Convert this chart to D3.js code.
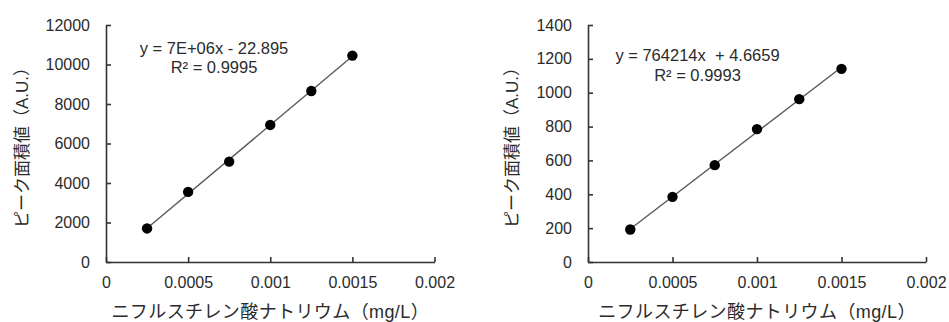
<!DOCTYPE html>
<html>
<head>
<meta charset="utf-8">
<script src="https://cdn.jsdelivr.net/npm/d3@7"></script>
<style>
  html, body { margin: 0; padding: 0; background: #ffffff; }
  svg { display: block; }
  text { fill: #2b2b2b; }
</style>
</head>
<body>
<svg id="chart" width="949" height="322"></svg>
<script>
// Sodium concentration standards (mg/L)
const concentrations = [0.00025, 0.0005, 0.00075, 0.001, 0.00125, 0.0015];

// Peak areas (A.U.) for each calibration curve
const peakAreaLeft = [1700, 3550, 5080, 6940, 8660, 10450];
const peakAreaRight = [192, 385, 572, 785, 962, 1141];

// Axis ticks
const xTicks = [0, 0.0005, 0.001, 0.0015, 0.002];
const xTickLabels = ["0", "0.0005", "0.001", "0.0015", "0.002"];
const yTicksLeft = [0, 2000, 4000, 6000, 8000, 10000, 12000];
const yTicksRight = [0, 200, 400, 600, 800, 1000, 1200, 1400];

// Trendline annotations
const equationLeft = ["y = 7E+06x - 22.895", "R² = 0.9995"];
const equationRight = ["y = 764214x  + 4.6659", "R² = 0.9993"];

// Axis titles
const xTitle = "ニフルスチレン酸ナトリウム（mg/L）";
const yTitle = "ピーク面積値（A.U.）";

const latinFont = "'Liberation Sans', Arial, 'Noto Sans CJK JP', sans-serif";
const svg = d3.select("#chart");

function drawPanel(opts) {
  const { values, yTicks, equation, x0, x1, yTop, yBottom, eqX, eqY, yTitleX } = opts;
  const g = svg.append("g");

  const x = d3.scaleLinear().domain([0, 0.002]).range([x0, x1]);
  const y = d3.scaleLinear().domain([0, d3.max(yTicks)]).range([yBottom, yTop]);

  // Axes with inward ticks
  const xAxis = d3.axisBottom(x)
    .tickValues(xTicks)
    .tickFormat((d, i) => xTickLabels[i])
    .tickSizeInner(-5)
    .tickSizeOuter(0)
    .tickPadding(15);
  const yAxis = d3.axisLeft(y)
    .tickValues(yTicks)
    .tickFormat(d3.format("d"))
    .tickSizeInner(-5)
    .tickSizeOuter(0)
    .tickPadding(16);

  const gx = g.append("g").attr("transform", `translate(0,${yBottom})`).call(xAxis);
  const gy = g.append("g").attr("transform", `translate(${x0},0)`).call(yAxis);
  [gx, gy].forEach(a => {
    a.selectAll("path, line").attr("stroke", "#333").attr("stroke-width", 1.6);
    a.selectAll("text")
      .style("font-family", latinFont)
      .style("font-size", "16px")
      .attr("fill", "#2b2b2b");
  });

  // Least-squares trendline through the points
  const pts = concentrations.map((c, i) => [c, values[i]]);
  const mx = d3.mean(pts, p => p[0]);
  const my = d3.mean(pts, p => p[1]);
  const sxy = d3.sum(pts, p => (p[0] - mx) * (p[1] - my));
  const sxx = d3.sum(pts, p => (p[0] - mx) ** 2);
  const slope = sxy / sxx;
  const intercept = my - slope * mx;
  const xs = d3.extent(concentrations);

  g.append("line")
    .attr("x1", x(xs[0])).attr("y1", y(slope * xs[0] + intercept))
    .attr("x2", x(xs[1])).attr("y2", y(slope * xs[1] + intercept))
    .attr("stroke", "#5a5a5a")
    .attr("stroke-width", 1.4);

  g.selectAll("circle.pt")
    .data(pts)
    .join("circle")
    .attr("class", "pt")
    .attr("cx", d => x(d[0]))
    .attr("cy", d => y(d[1]))
    .attr("r", 5.2)
    .attr("fill", "#000");

  // Regression equation
  const eq = g.append("text")
    .attr("text-anchor", "middle")
    .style("font-family", latinFont)
    .style("font-size", "16.5px")
    .style("white-space", "pre");
  equation.forEach((line, i) => {
    eq.append("tspan").attr("x", eqX).attr("y", eqY + i * 19.5).text(line);
  });

  // Axis titles
  g.append("text")
    .attr("text-anchor", "middle")
    .attr("x", (x0 + x1) / 2)
    .attr("y", 318)
    .style("font-family", latinFont)
    .style("font-size", "18px")
    .style("letter-spacing", "0.4px")
    .text(xTitle);

  g.append("text")
    .attr("text-anchor", "middle")
    .attr("transform", `translate(${yTitleX},${(yTop + yBottom) / 2}) rotate(-90)`)
    .attr("dy", "0.35em")
    .style("font-family", latinFont)
    .style("font-size", "17px")
    .text(yTitle);
}

drawPanel({
  values: peakAreaLeft, yTicks: yTicksLeft, equation: equationLeft,
  x0: 106, x1: 434.5, yTop: 25, yBottom: 262,
  eqX: 214, eqY: 53.5, yTitleX: 22
});

drawPanel({
  values: peakAreaRight, yTicks: yTicksRight, equation: equationRight,
  x0: 588, x1: 926, yTop: 25, yBottom: 262,
  eqX: 697.5, eqY: 61, yTitleX: 512
});
</script>
</body>
</html>
